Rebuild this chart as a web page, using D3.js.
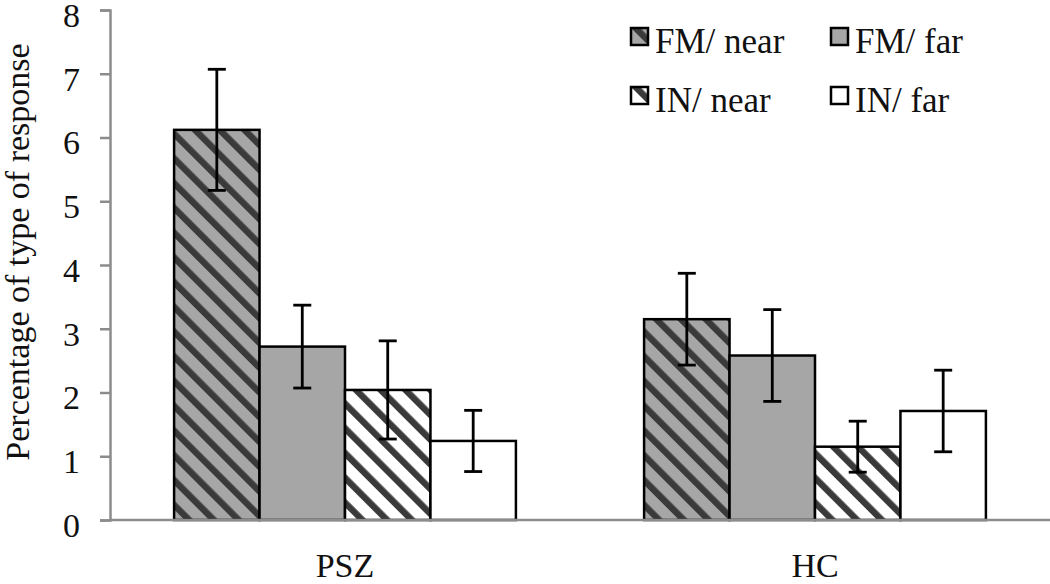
<!DOCTYPE html>
<html>
<head>
<meta charset="utf-8">
<script src="https://cdn.jsdelivr.net/npm/d3@7"></script>
<style>
  html, body { margin: 0; padding: 0; background: #fff; }
  svg { display: block; }
  text { font-family: "Liberation Serif", "Times New Roman", Times, serif; fill: #111; }
</style>
</head>
<body>
<script>
// ---- data ----
const categories = ["PSZ", "HC"];
const series = ["FM/ near", "FM/ far", "IN/ near", "IN/ far"];
const valuesPSZ = [6.12, 2.72, 2.04, 1.24];
const valuesHC  = [3.15, 2.58, 1.15, 1.71];
const errorsPSZ = [0.95, 0.65, 0.77, 0.48];
const errorsHC  = [0.72, 0.72, 0.40, 0.64];
const yTicks = [0, 1, 2, 3, 4, 5, 6, 7, 8];
const yTitle = "Percentage of type of response";

const values = { PSZ: valuesPSZ, HC: valuesHC };
const errors = { PSZ: errorsPSZ, HC: errorsHC };

// ---- layout ----
const W = 1050, H = 584;
const svg = d3.select("body").append("svg").attr("width", W).attr("height", H);

const y = d3.scaleLinear().domain([0, 8]).range([520, 10]);
const x0 = d3.scaleBand().domain(categories).range([110, 1050]).padding(0);
const x1 = d3.scaleBand().domain(series).range([0, x0.bandwidth()]).paddingInner(0).paddingOuter(0.75);

// patterns
const defs = svg.append("defs");
function stripe(id, bg) {
  const p = defs.append("pattern").attr("id", id).attr("patternUnits", "userSpaceOnUse")
    .attr("width", 17.5).attr("height", 17.5).attr("patternTransform", "rotate(-45)");
  p.append("rect").attr("width", 17.5).attr("height", 17.5).attr("fill", bg);
  p.append("rect").attr("x", 0).attr("width", 6.5).attr("height", 17.5).attr("fill", "#3a3a3a");
}
stripe("fmnear", "#a6a6a6");
stripe("innear", "#ffffff");
const fills = { "FM/ near": "url(#fmnear)", "FM/ far": "#a6a6a6", "IN/ near": "url(#innear)", "IN/ far": "#ffffff" };

// y axis
const yAxis = svg.append("g").attr("transform", "translate(110,0)")
  .call(d3.axisLeft(y).tickValues(yTicks).tickSize(10).tickPadding(20).tickFormat(d3.format("d")));
yAxis.select(".domain").attr("stroke", "#8c8c8c").attr("stroke-width", 2.5);
yAxis.selectAll(".tick line").attr("stroke", "#8c8c8c").attr("stroke-width", 2.5);
yAxis.selectAll(".tick text")
  .attr("dy", "0.48em")
  .style("font-size", "34px")
  .style("font-family", "'Liberation Serif', 'Times New Roman', serif")
  .attr("fill", "#111");

// bars
const groups = svg.append("g").selectAll("g").data(categories).join("g")
  .attr("transform", d => `translate(${x0(d)},0)`);

groups.selectAll("rect").data(c => series.map((s, i) => ({ s, v: values[c][i], e: errors[c][i] })))
  .join("rect")
  .attr("x", d => x1(d.s))
  .attr("y", d => y(d.v))
  .attr("width", x1.bandwidth())
  .attr("height", d => y(0) - y(d.v))
  .attr("fill", d => fills[d.s])
  .attr("stroke", "#000").attr("stroke-width", 2.5);

// x axis line (drawn after bars)
svg.append("line").attr("x1", 110).attr("x2", 1050).attr("y1", y(0)).attr("y2", y(0))
  .attr("stroke", "#8c8c8c").attr("stroke-width", 2.5);

// error bars
const eb = groups.selectAll("g.err").data(c => series.map((s, i) => ({ s, v: values[c][i], e: errors[c][i] })))
  .join("g").attr("class", "err");
const cap = 9;
eb.append("line")
  .attr("x1", d => x1(d.s) + x1.bandwidth() / 2).attr("x2", d => x1(d.s) + x1.bandwidth() / 2)
  .attr("y1", d => y(d.v + d.e)).attr("y2", d => y(d.v - d.e))
  .attr("stroke", "#000").attr("stroke-width", 2.8);
eb.append("line")
  .attr("x1", d => x1(d.s) + x1.bandwidth() / 2 - cap).attr("x2", d => x1(d.s) + x1.bandwidth() / 2 + cap)
  .attr("y1", d => y(d.v + d.e)).attr("y2", d => y(d.v + d.e))
  .attr("stroke", "#000").attr("stroke-width", 2.8);
eb.append("line")
  .attr("x1", d => x1(d.s) + x1.bandwidth() / 2 - cap).attr("x2", d => x1(d.s) + x1.bandwidth() / 2 + cap)
  .attr("y1", d => y(d.v - d.e)).attr("y2", d => y(d.v - d.e))
  .attr("stroke", "#000").attr("stroke-width", 2.8);

// category labels
svg.append("g").selectAll("text").data(categories).join("text")
  .attr("x", d => x0(d) + x0.bandwidth() / 2)
  .attr("y", 577)
  .attr("text-anchor", "middle")
  .style("font-size", "34px")
  .text(d => d);

// y title
svg.append("text")
  .attr("transform", "translate(29,252) rotate(-90)")
  .attr("text-anchor", "middle")
  .style("font-size", "34px")
  .text(yTitle);

// legend
const legendCols = [631, 831];
const legendRows = [28, 87];
const lg = svg.append("g").selectAll("g").data(series).join("g")
  .attr("transform", (d, i) => `translate(${legendCols[i % 2]},${legendRows[Math.floor(i / 2)]})`);
lg.append("rect").attr("width", 17).attr("height", 17)
  .attr("fill", d => fills[d]).attr("stroke", "#000").attr("stroke-width", 2.5);
lg.append("text").attr("x", 24).attr("y", 25)
  .style("font-size", "35px")
  .text(d => d);
</script>
</body>
</html>
